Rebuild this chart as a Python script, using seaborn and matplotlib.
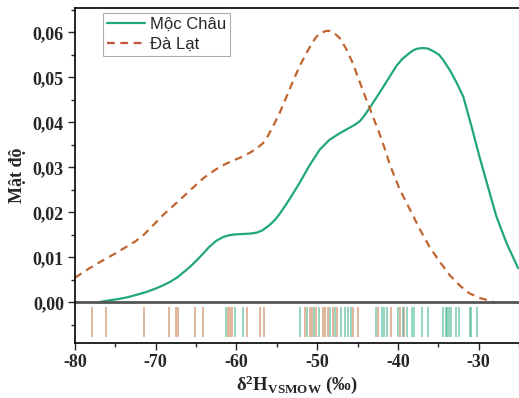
import matplotlib
matplotlib.use("Agg")
import matplotlib.pyplot as plt
import matplotlib.ticker as mticker
from matplotlib.lines import Line2D
import seaborn as sns
import pandas as pd

# ---- data ----
mc_x = [-77.3, -76.0, -74.5, -73.4, -72.4, -71.2, -70.0, -69.1, -68.2, -67.3, -66.5,
        -65.7, -64.9, -63.9, -63.4, -62.5, -61.7, -61.0, -60.3, -59.3, -58.3, -57.5, -56.8,
        -55.9, -55.2, -54.6, -53.4, -52.2, -51.0, -49.7, -48.5, -47.2, -46.0, -45.3, -44.7,
        -44.2, -43.5, -42.2, -41.0, -40.2, -39.5, -38.5, -38.0, -37.5, -36.9, -36.3, -35.5,
        -34.9, -34.4, -33.5, -32.7, -31.9, -30.9, -29.9, -28.8, -27.8, -26.5, -25.1]
mc_y = [0.0, 0.0004, 0.0008, 0.0012, 0.0017, 0.0023, 0.0031, 0.0038, 0.0046, 0.0056, 0.0068,
        0.0080, 0.0094, 0.0113, 0.0123, 0.0137, 0.0145, 0.0149, 0.0151, 0.0152, 0.0153, 0.0155, 0.0160,
        0.0172, 0.0184, 0.0198, 0.0230, 0.0265, 0.0303, 0.0339, 0.0361, 0.0376, 0.0388, 0.0395, 0.0403,
        0.0414, 0.0432, 0.0468, 0.0502, 0.0525, 0.0540, 0.0555, 0.0561, 0.0564, 0.0565, 0.0564, 0.0557,
        0.0550, 0.0539, 0.0514, 0.0487, 0.0457, 0.0392, 0.0324, 0.0254, 0.0191, 0.0130, 0.0076]

dl_x = [-80.0, -78.3, -76.5, -75.0, -73.6, -72.5, -71.5, -70.3, -69.1, -68.0, -67.0,
        -65.5, -64.1, -62.6, -61.2, -60.3, -59.5, -58.3, -57.5, -56.7, -56.1, -55.5,
        -54.6, -53.8, -53.0, -52.2, -51.3, -50.5, -50.0, -49.5, -48.9, -48.4, -48.0,
        -47.2, -46.4, -45.6, -44.8, -43.9, -43.1, -42.3, -41.6, -41.0, -39.8, -38.5,
        -37.3, -36.1, -34.8, -33.6, -32.3, -31.1, -29.9, -28.8, -28.0]
dl_y = [0.0055, 0.0075, 0.0094, 0.0109, 0.0124, 0.0136, 0.0150, 0.0172, 0.0194, 0.0212, 0.0228,
        0.0253, 0.0276, 0.0295, 0.0309, 0.0316, 0.0322, 0.0333, 0.0342, 0.0354, 0.0370, 0.0390,
        0.0423, 0.0457, 0.0491, 0.0524, 0.0555, 0.0580, 0.0592, 0.0599, 0.0603, 0.0603, 0.0600,
        0.0587, 0.0563, 0.0532, 0.0493, 0.0450, 0.0413, 0.0376, 0.0340, 0.0306, 0.0252, 0.0206,
        0.0163, 0.0124, 0.0090, 0.0061, 0.0037, 0.0020, 0.0010, 0.0005, 0.0]

mc_rug = [-61.3, -60.2, -59.2, -52.1, -51.3, -50.4, -49.8, -48.4, -47.8, -47.1, -46.5,
          -46.2, -45.8, -42.7, -42.0, -41.7, -41.4, -40.0, -39.4, -38.9, -38.3, -38.0,
          -37.0, -36.3, -34.4, -34.1, -33.9, -33.7, -33.4, -32.8, -32.4, -31.1, -30.9, -30.2]
dl_rug = [-77.9, -76.1, -71.5, -68.4, -67.5, -67.2, -65.1, -64.2, -61.1, -60.8, -60.6,
          -58.7, -57.1, -56.6, -51.5, -50.9, -50.7, -50.1, -49.3, -49.0, -48.7, -48.1,
          -47.5, -45.6, -45.0, -42.5, -40.9, -39.8, -39.2]

labels = ["Mộc Châu", "Đà Lạt"]
x_ticks = [-80, -70, -60, -50, -40, -30]
y_ticks = [0.00, 0.01, 0.02, 0.03, 0.04, 0.05, 0.06]

green = "#22a77b"
brown = "#c0652f"
legend_red = "#c2553a"
dash = (0, (3.5, 2.5))

sns.set_style("ticks")
plt.rcParams["font.family"] = ["Liberation Serif", "DejaVu Serif"]
plt.rcParams["mathtext.fontset"] = "custom"
plt.rcParams["mathtext.rm"] = "Liberation Serif:bold"
plt.rcParams["mathtext.bf"] = "Liberation Serif:bold"
plt.rcParams["mathtext.it"] = "Liberation Serif:bold"

df = pd.concat([
    pd.DataFrame({"x": mc_x, "y": mc_y, "g": labels[0]}),
    pd.DataFrame({"x": dl_x, "y": dl_y, "g": labels[1]}),
])

fig = plt.figure(figsize=(5.19, 3.98), dpi=100)
ax = fig.add_axes([75 / 519, 55 / 398, 444 / 519, 335 / 398])

sub = df[df.g == labels[0]]
sns.lineplot(x=sub.x, y=sub.y, ax=ax, color=green, lw=1.6, sort=False)
sub = df[df.g == labels[1]]
sns.lineplot(x=sub.x, y=sub.y, ax=ax, color=brown, lw=1.6, sort=False)
ax.lines[-1].set_linestyle(dash)

ax.vlines(dl_rug, -0.0076, -0.0009, color=brown, lw=1.1, alpha=0.6)
ax.vlines(mc_rug, -0.0076, -0.0009, color=green, lw=1.1, alpha=0.6)
ax.axhline(0, color="#555555", lw=2.0)

ax.set_xlim(-80, -25)
ax.set_ylim(-0.009, 0.0654)
ax.set_xticks(x_ticks)
ax.set_yticks(y_ticks)
ax.xaxis.set_minor_locator(mticker.MultipleLocator(5))
ax.yaxis.set_minor_locator(mticker.MultipleLocator(0.005))
ax.xaxis.set_major_formatter(mticker.FuncFormatter(lambda v, p: f"{v:.0f}"))
ax.yaxis.set_major_formatter(mticker.FuncFormatter(lambda v, p: f"{v:.2f}".replace(".", ",")))
ax.tick_params(which="major", direction="out", length=5, width=1, labelsize=13, pad=3)
ax.tick_params(which="minor", direction="out", length=3, width=1)
for lab in ax.get_xticklabels() + ax.get_yticklabels():
    lab.set_fontweight("bold")
for s in ax.spines.values():
    s.set_linewidth(1.2)
    s.set_color("black")
ax.spines["right"].set_visible(False)

ax.set_xlabel(r"δ$^{2}$H$_{\rm VSMOW}$ (‰)", fontsize=13.5, fontweight="bold", labelpad=2)
ax.set_ylabel("Mật độ", fontsize=13, fontweight="bold", labelpad=5)

handles = [Line2D([0], [0], color=green, lw=1.6),
           Line2D([0], [0], color=legend_red, lw=1.6, linestyle=dash)]
leg = ax.legend(handles, labels, loc="upper left", bbox_to_anchor=(0.063, 0.985),
                borderaxespad=0, frameon=True, fancybox=False, handlelength=2.3,
                handletextpad=0.25, borderpad=0.25, labelspacing=0.3,
                prop={"family": "Liberation Sans", "size": 12})
leg.get_frame().set_edgecolor("#999999")
leg.get_frame().set_linewidth(0.8)

fig.savefig("out.png", dpi=100)
